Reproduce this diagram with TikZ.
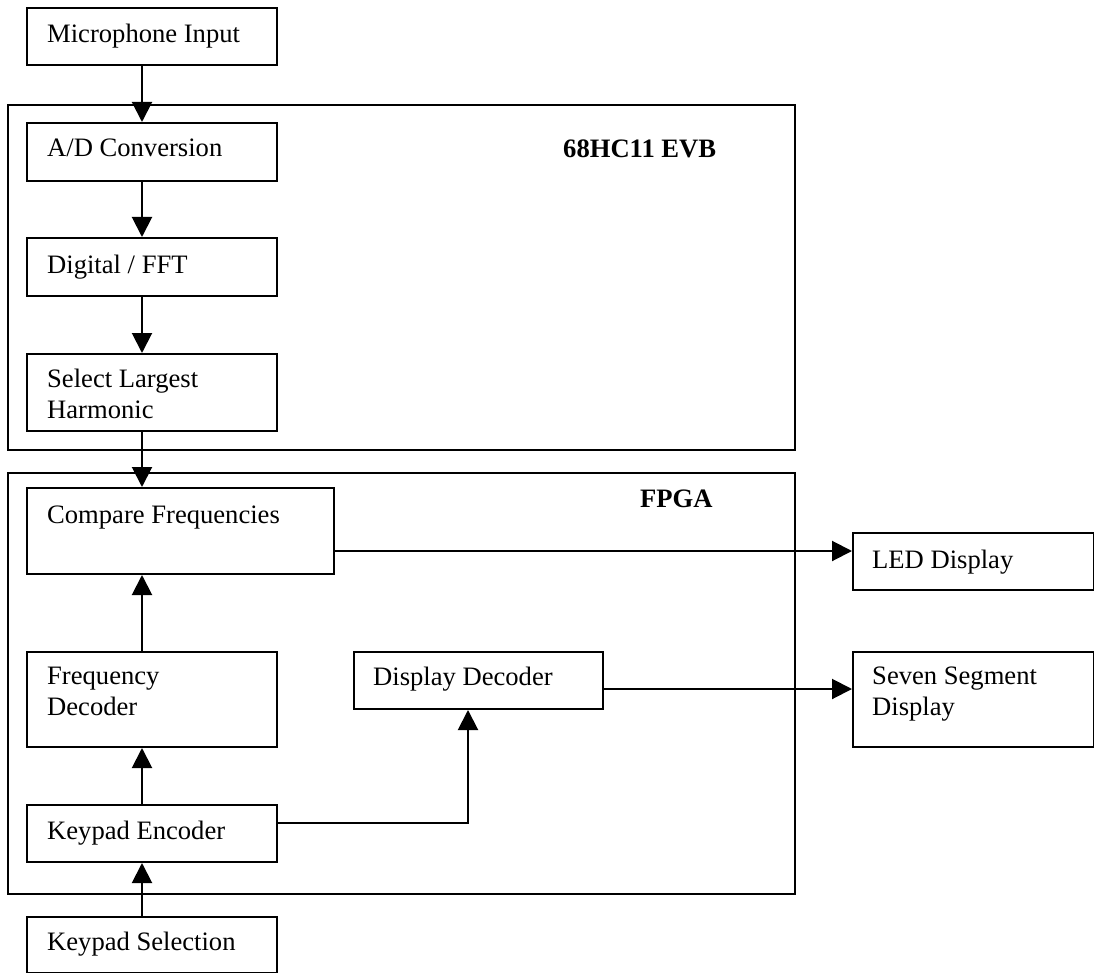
\documentclass[tikz,border=0pt]{standalone}
\usepackage{fontspec}
\setmainfont{Liberation Serif}
\usetikzlibrary{arrows.meta}
\newcommand\twolines[2]{\vtop{\hbox{#1}\hbox{#2}}}
\begin{document}
\begin{tikzpicture}[x=1pt,y=-1pt,
  boxnode/.style={draw,line width=2pt,inner sep=0pt,anchor=north west},
  framenode/.style={draw,line width=2pt,inner sep=0pt,anchor=north west},
  txt/.style={inner sep=0pt,anchor=base west,font=\fontsize{26.6pt}{31.5pt}\selectfont},
  bold/.style={txt,font=\fontsize{26.6pt}{31.5pt}\selectfont\bfseries},
  arr/.style={line width=2pt,-{Triangle[length=20pt,width=20pt]}},
  ln/.style={line width=2pt}]
\useasboundingbox (0,0) rectangle (1094,973);
% frames
\node[framenode,minimum width=787pt,minimum height=345pt] (evb) at (7,104) {};
\node[framenode,minimum width=787pt,minimum height=421pt] (fpga) at (7,472) {};
\node[bold] (evbT) at (563,158) {68HC11 EVB};
\node[bold] (fpgaT) at (640,507) {FPGA};
% boxes
\node[boxnode,minimum width=250pt,minimum height=57pt] (mic) at (26,7) {};
\node[boxnode,minimum width=250pt,minimum height=58pt] (ad) at (26,122) {};
\node[boxnode,minimum width=250pt,minimum height=58pt] (fft) at (26,237) {};
\node[boxnode,minimum width=250pt,minimum height=77pt] (sel) at (26,353) {};
\node[boxnode,minimum width=307pt,minimum height=86pt] (cmp) at (26,487) {};
\node[boxnode,minimum width=241pt,minimum height=57pt] (led) at (852,532) {};
\node[boxnode,minimum width=250pt,minimum height=95pt] (freq) at (26,651) {};
\node[boxnode,minimum width=249pt,minimum height=57pt] (disp) at (353,651) {};
\node[boxnode,minimum width=241pt,minimum height=95pt] (seven) at (852,651) {};
\node[boxnode,minimum width=250pt,minimum height=57pt] (kenc) at (26,804) {};
\node[boxnode,minimum width=250pt,minimum height=56pt] (ksel) at (26,916) {};
% texts
\node[txt] (micT) at (47,43) {Microphone Input};
\node[txt] (adT) at (47,157) {A/D Conversion};
\node[txt] (fftT) at (47,274) {Digital / FFT};
\node[txt] (selT) at (47,387) {\twolines{Select Largest}{Harmonic}};
\node[txt] (cmpT) at (47,523) {Compare Frequencies};
\node[txt] (ledT) at (872,568) {LED Display};
\node[txt] (freqT) at (47,684) {\twolines{Frequency}{Decoder}};
\node[txt] (dispT) at (373,685) {Display Decoder};
\node[txt] (sevenT) at (872,684) {\twolines{Seven Segment}{Display}};
\node[txt] (kencT) at (47,839) {Keypad Encoder};
\node[txt] (kselT) at (47,950) {Keypad Selection};
% connectors
\draw[arr] ([xshift=116pt]mic.south west) -- ([xshift=116pt]ad.north west);
\draw[arr] ([xshift=116pt]ad.south west) -- ([xshift=116pt]fft.north west);
\draw[arr] ([xshift=116pt]fft.south west) -- ([xshift=116pt]sel.north west);
\draw[arr] ([xshift=116pt]sel.south west) -- ([xshift=116pt]cmp.north west);
\draw[arr] ([xshift=116pt]freq.north west) -- ([xshift=116pt]cmp.south west);
\draw[arr] ([xshift=116pt]kenc.north west) -- ([xshift=116pt]freq.south west);
\draw[arr] ([xshift=116pt]ksel.north west) -- ([xshift=116pt]kenc.south west);
\draw[arr] (cmp.east |- 0,551) -- (led.west |- 0,551);
\draw[arr] (disp.east |- 0,689) -- (seven.west |- 0,689);
\draw[arr] (kenc.east |- 0,823) -| ([xshift=115pt]disp.south west);
\end{tikzpicture}
\end{document}
